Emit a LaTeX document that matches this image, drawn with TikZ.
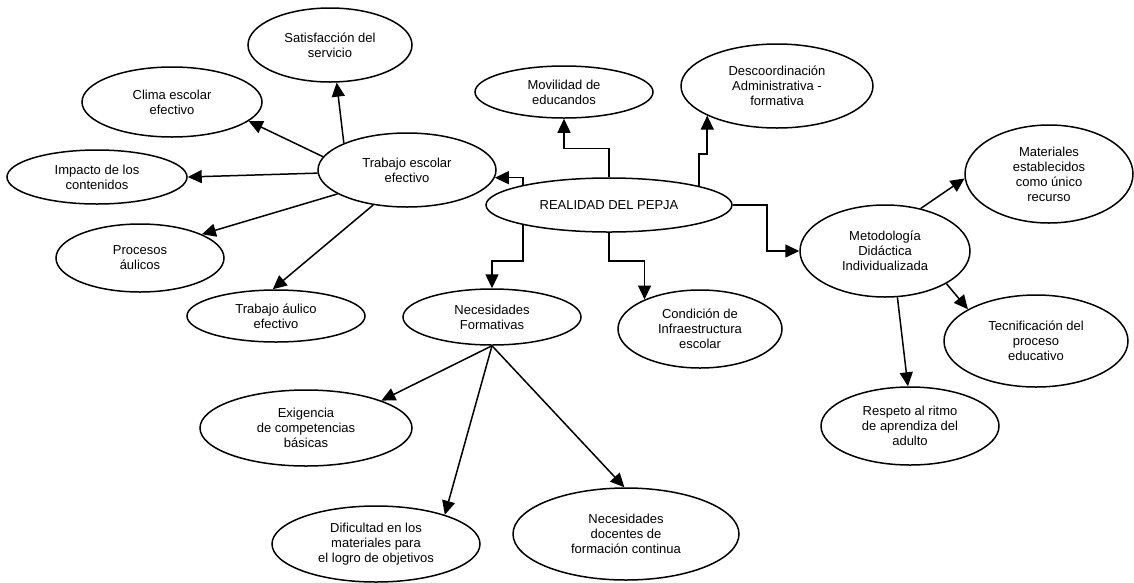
\documentclass[tikz,border=0pt]{standalone}
\usepackage{fontspec}
\setmainfont{Liberation Sans}
\usetikzlibrary{shapes.geometric,arrows.meta}
\begin{document}
\begin{tikzpicture}[x=1pt,y=-1pt,
  idea/.style={draw,ellipse,line width=1.5pt,inner sep=0pt,align=center,
    font=\fontsize{13}{15}\selectfont},
  con/.style={line width=1.5pt,-{Triangle[length=14pt,width=13pt]}}]
\useasboundingbox (0,0) rectangle (1134,582);
\node[idea,minimum width=164pt,minimum height=74pt] (sat) at (330,45) {Satisfacción del\\servicio};
\node[idea,minimum width=180pt,minimum height=70pt] (clima) at (172,102) {Clima escolar\\efectivo};
\node[idea,minimum width=180pt,minimum height=54pt] (imp) at (97,177) {Impacto de los\\contenidos};
\node[idea,minimum width=178pt,minimum height=74pt] (trab) at (407,170) {Trabajo escolar\\efectivo};
\node[idea,minimum width=168pt,minimum height=68pt] (proc) at (140,258) {Procesos\\áulicos};
\node[idea,minimum width=178pt,minimum height=52pt] (aul) at (276,316) {Trabajo áulico\\efectivo};
\node[idea,minimum width=178pt,minimum height=52pt] (mov) at (564,92) {Movilidad de\\educandos};
\node[idea,minimum width=192pt,minimum height=84pt] (desc) at (777,86) {Descoordinación\\Administrativa -\\formativa};
\node[idea,minimum width=246pt,minimum height=54pt] (real) at (609,205) {REALIDAD DEL PEPJA};
\node[idea,minimum width=178pt,minimum height=56pt] (nec) at (492,317) {Necesidades\\Formativas};
\node[idea,minimum width=164pt,minimum height=78pt] (cond) at (700,329) {Condición de\\Infraestructura\\escolar};
\node[idea,minimum width=170pt,minimum height=92pt] (met) at (885,251) {Metodología\\Didáctica\\Individualizada};
\node[idea,minimum width=168pt,minimum height=98pt] (mat) at (1049,174) {Materiales\\establecidos\\como único\\recurso};
\node[idea,minimum width=184pt,minimum height=92pt] (tec) at (1036,341) {Tecnificación del\\proceso\\educativo};
\node[idea,minimum width=178pt,minimum height=78pt] (resp) at (910,426) {Respeto al ritmo\\de aprendiza del\\adulto};
\node[idea,minimum width=212pt,minimum height=76pt] (exig) at (306,428) {Exigencia\\de competencias\\básicas};
\node[idea,minimum width=208pt,minimum height=76pt] (dif) at (376,544) {Dificultad en los\\materiales para\\el logro de objetivos};
\node[idea,minimum width=226pt,minimum height=92pt] (doc) at (626,534) {Necesidades\\docentes de\\formación continua};
\draw[con] (trab.157) -- (sat.280);
\draw[con] (trab.171) -- (clima.346);
\draw[con] (trab.182) -- (imp.0);
\draw[con] (trab.199) -- (proc.21);
\draw[con] (trab.226) -- (aul.97);
\draw[con] (real.167) |- (trab.-5);
\draw[con] (real.north) -- ++(0,-29) -| (mov.south);
\draw[con] (real.12) -- ++(0,-32) -| (desc.203);
\draw[con] (real.east) -- ++(34,0) |- (met.west);
\draw[con] (real.193) -- ++(0,36) -| (nec.north);
\draw[con] (real.south) -- ++(0,28) -| (cond.152);
\draw[con] (nec.south) -- (exig.20);
\draw[con] (nec.south) -- (dif.23);
\draw[con] (nec.south) -- (doc.92);
\draw[con] (met.50) -- (mat.183);
\draw[con] (met.332) -- (tec.155);
\draw[con] (met.285) -- (resp.93);
\end{tikzpicture}
\end{document}
